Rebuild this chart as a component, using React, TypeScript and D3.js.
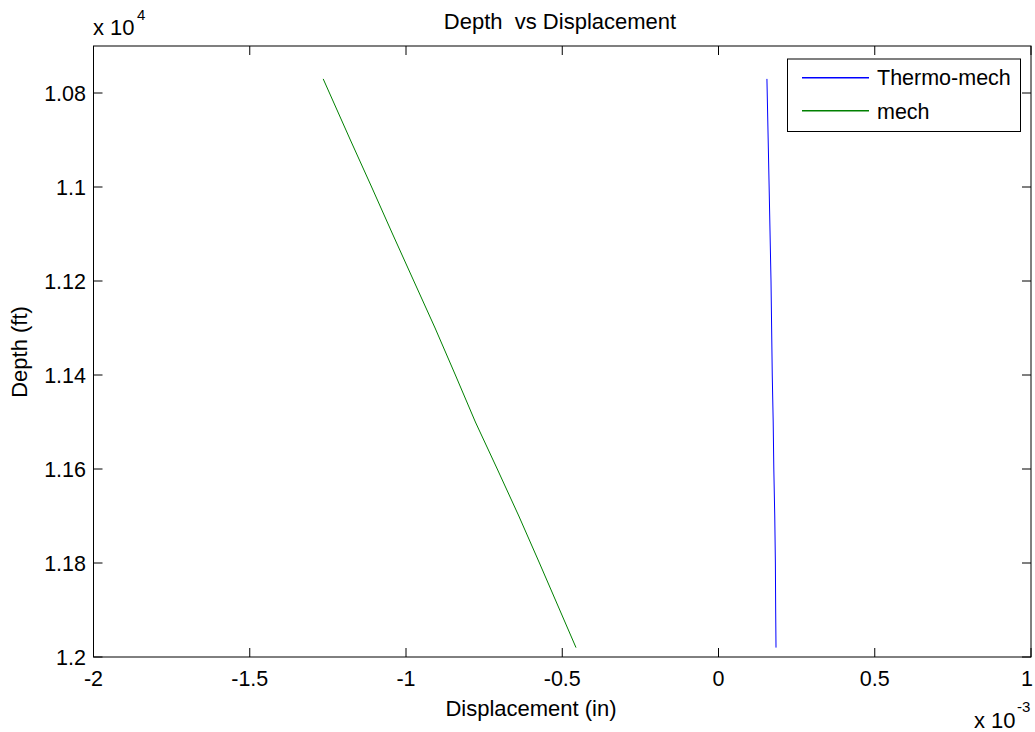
import React from 'react';
import * as d3 from 'd3';

// depth samples (ft)
const depths = [10770, 10900, 11000, 11100, 11200, 11300, 11400, 11500, 11600, 11700, 11800, 11900, 11980];
// displacement in units of 1e-3 in
const thermoMech = [0.155, 0.159, 0.162, 0.165, 0.168, 0.170, 0.172, 0.175, 0.177, 0.180, 0.182, 0.183, 0.184];
const mech = [-1.265, -1.178, -1.110, -1.043, -0.975, -0.907, -0.842, -0.778, -0.708, -0.639, -0.573, -0.508, -0.456];

const xTicks = [-2, -1.5, -1, -0.5, 0, 0.5, 1];
const yTicks = [10800, 11000, 11200, 11400, 11600, 11800, 12000];

const W = 1035;
const H = 732;
const box = { left: 93.5, right: 1031, top: 46, bottom: 657 };
const font = '"Liberation Sans", Arial, sans-serif';
const fs = 21.5;
const tickLen = 9;

const App = () => {
  const x = d3.scaleLinear().domain([-2, 1]).range([box.left, box.right]);
  const y = d3.scaleLinear().domain([10700, 12000]).range([box.top, box.bottom]);

  const line = d3.line<[number, number]>()
    .x(d => x(d[0]))
    .y(d => y(d[1]));

  const series = [
    { name: 'Thermo-mech', values: thermoMech, color: '#0000ff' },
    { name: 'mech', values: mech, color: '#008000' },
  ];

  const fmtY = (v: number) => String(+(v / 1e4).toFixed(2));

  return (
    <div style={{ position: 'absolute', left: 0, top: 0 }}>
      <svg width={W} height={H} style={{ display: 'block', background: '#fff' }} fontFamily={font}>
        {/* data lines */}
        {series.map(s => (
          <path
            key={s.name}
            d={line(s.values.map((v, i) => [v, depths[i]] as [number, number])) || ''}
            fill="none"
            stroke={s.color}
            strokeWidth={1}
          />
        ))}

        {/* ticks, inward on all four sides */}
        {xTicks.map(t => (
          <g key={'xt' + t}>
            <line x1={x(t)} x2={x(t)} y1={box.bottom} y2={box.bottom - tickLen} stroke="#000" />
            <line x1={x(t)} x2={x(t)} y1={box.top} y2={box.top + tickLen} stroke="#000" />
            <text x={Math.min(x(t), 1027)} y={686} fontSize={fs} textAnchor="middle">{t}</text>
          </g>
        ))}
        {yTicks.map(t => (
          <g key={'yt' + t}>
            <line x1={box.left} x2={box.left + tickLen} y1={y(t)} y2={y(t)} stroke="#000" />
            <line x1={box.right} x2={box.right - tickLen} y1={y(t)} y2={y(t)} stroke="#000" />
            <text x={86} y={y(t)} dy="0.36em" fontSize={fs} textAnchor="end">{fmtY(t)}</text>
          </g>
        ))}

        {/* axes box */}
        <rect x={box.left} y={box.top} width={box.right - box.left} height={box.bottom - box.top}
          fill="none" stroke="#000" strokeWidth={1} />

        {/* exponent labels */}
        <text x={93} y={35} fontSize={22}>x 10</text>
        <text x={137} y={20} fontSize={15}>4</text>
        <text x={974} y={728} fontSize={22}>x 10</text>
        <text x={1017} y={712} fontSize={15}>-3</text>

        {/* title and axis labels */}
        <text x={560} y={29} fontSize={22} textAnchor="middle" style={{ whiteSpace: 'pre' }}>Depth  vs Displacement</text>
        <text x={531} y={716} fontSize={22} textAnchor="middle">Displacement (in)</text>
        <text transform={`translate(27,352) rotate(-90)`} fontSize={22} textAnchor="middle">Depth (ft)</text>

        {/* legend */}
        <g>
          <rect x={787.5} y={59} width={233} height={72.5} fill="#fff" stroke="#000" strokeWidth={1} />
          {series.map((s, i) => (
            <g key={'lg' + s.name}>
              <rect x={802} y={77 + i * 33} width={67} height={1.5} fill={s.color} />
              <text x={877} y={77.5 + i * 33.3} dy="0.36em" fontSize={fs}>{s.name}</text>
            </g>
          ))}
        </g>
      </svg>
    </div>
  );
};

export default App;
